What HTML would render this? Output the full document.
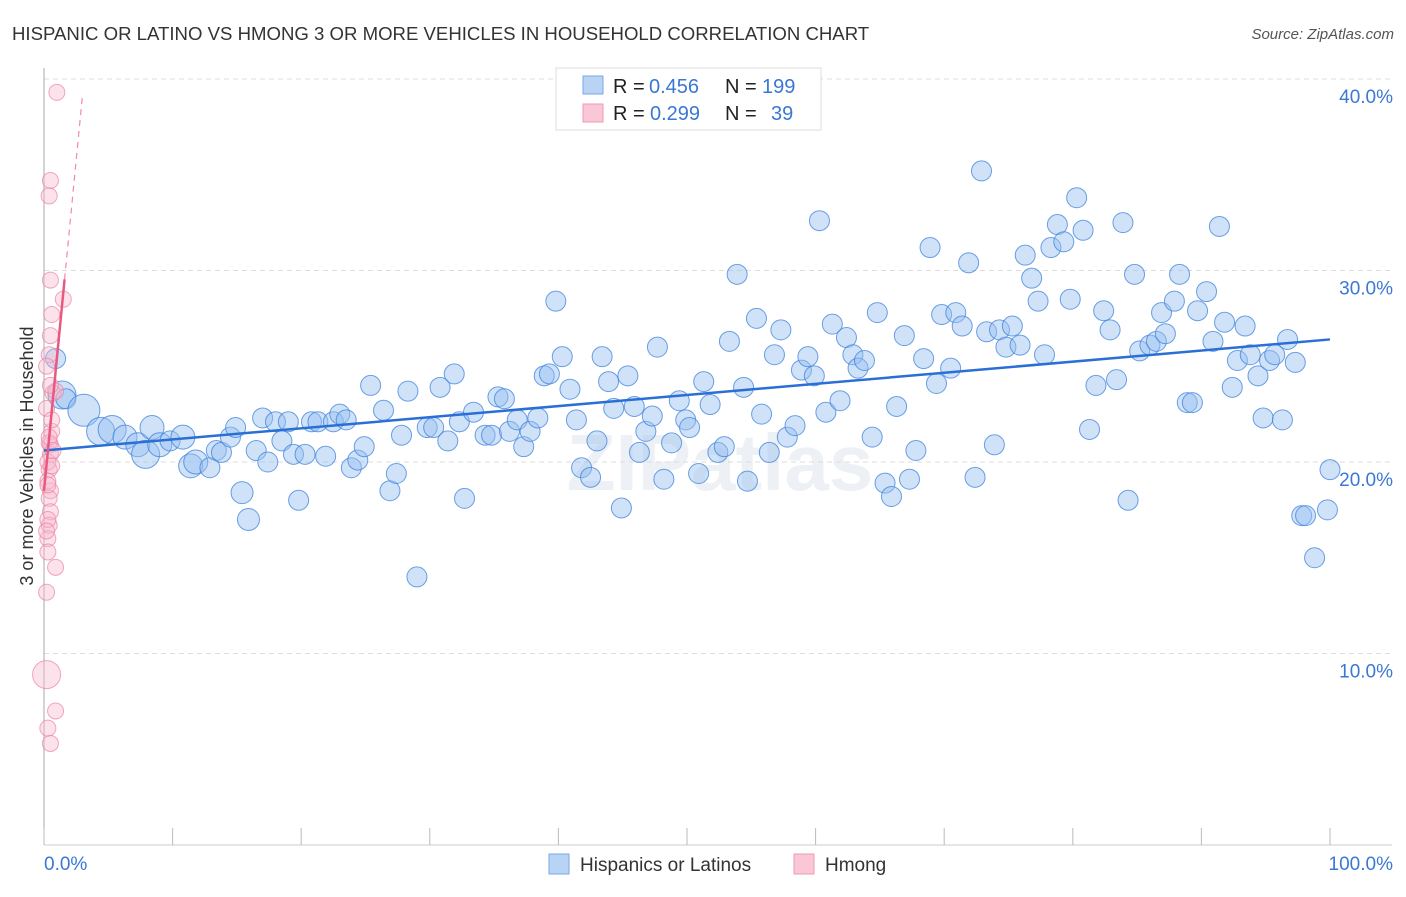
<!DOCTYPE html>
<html><head><meta charset="utf-8"><style>
body{margin:0;background:#fff;font-family:"Liberation Sans",sans-serif;}
svg text{font-family:"Liberation Sans",sans-serif;}
</style></head><body>
<svg id="chart" width="1406" height="892" xmlns="http://www.w3.org/2000/svg">
<text x="12" y="40" font-size="18.6" fill="#333">HISPANIC OR LATINO VS HMONG 3 OR MORE VEHICLES IN HOUSEHOLD CORRELATION CHART</text>
<text x="1394" y="39" font-size="15" fill="#555" text-anchor="end" font-style="italic">Source: ZipAtlas.com</text>
<text transform="translate(33,456) rotate(-90)" font-size="18" fill="#333" text-anchor="middle">3 or more Vehicles in Household</text>
<text x="720" y="490" font-size="80" fill="#edf0f5" text-anchor="middle" font-family="Liberation Serif" font-weight="bold">ZIPatlas</text>
<g id="grid"></g><g id="axes"></g><g id="blue"></g><g id="pink"></g><g id="lines"></g>
<g>
<rect x="556" y="68" width="265" height="62" fill="#fff" stroke="#ddd"/>
<rect x="583" y="76" width="20" height="18" fill="#b9d3f5" stroke="#7aa7e6"/>
<rect x="583" y="104" width="20" height="18" fill="#f9c7d5" stroke="#ef9ab3"/>
<text x="613" y="93" font-size="20" fill="#222">R =</text>
<text x="649" y="93" font-size="20" fill="#3a78d4">0.456</text>
<text x="725" y="93" font-size="20" fill="#222">N =</text>
<text x="762" y="93" font-size="20" fill="#3a78d4">199</text>
<text x="613" y="120" font-size="20" fill="#222">R =</text>
<text x="650" y="120" font-size="20" fill="#3a78d4">0.299</text>
<text x="725" y="120" font-size="20" fill="#222">N =</text>
<text x="771" y="120" font-size="20" fill="#3a78d4">39</text>
</g>
<g>
<rect x="549" y="854" width="20" height="20" fill="#b9d3f5" stroke="#7aa7e6"/>
<text x="580" y="871" font-size="19" fill="#333">Hispanics or Latinos</text>
<rect x="794" y="854" width="20" height="20" fill="#f9c7d5" stroke="#ef9ab3"/>
<text x="825" y="871" font-size="19" fill="#333">Hmong</text>
</g>
</svg>
<script>
const yTicks=[10,20,30,40];
const yTickLabels=["10.0%","20.0%","30.0%","40.0%"];
const xTicks=[0,10,20,30,40,50,60,70,80,90,100];
const blueX=[0.9,1.4,1.7,3.1,4.4,5.3,6.3,7.3,7.9,8.4,9.0,9.8,10.8,11.4,11.8,12.9,13.4,13.8,14.5,14.9,15.4,15.9,16.5,17.0,17.4,18.0,18.5,19.0,19.4,19.8,20.3,20.8,21.3,21.9,22.5,23.0,23.5,23.9,24.4,24.9,25.4,26.4,26.9,27.4,27.8,28.3,29.0,29.8,30.3,30.8,31.4,31.9,32.3,32.7,33.4,34.3,34.8,35.3,35.8,36.2,36.8,37.3,37.8,38.4,38.9,39.3,39.8,40.3,40.9,41.4,41.8,42.5,43.0,43.4,43.9,44.3,44.9,45.4,45.9,46.3,46.8,47.3,47.7,48.2,48.8,49.4,49.9,50.2,50.9,51.3,51.8,52.4,52.9,53.3,53.9,54.4,54.7,55.4,55.8,56.4,56.8,57.3,57.8,58.4,58.9,59.4,59.9,60.3,60.8,61.3,61.9,62.4,62.9,63.3,63.8,64.4,64.8,65.4,65.9,66.3,66.9,67.3,67.8,68.4,68.9,69.4,69.8,70.5,70.9,71.4,71.9,72.4,72.9,73.3,73.9,74.3,74.8,75.3,75.9,76.3,76.8,77.3,77.8,78.3,78.8,79.3,79.8,80.3,80.8,81.3,81.8,82.4,82.9,83.4,83.9,84.3,84.8,85.2,86.0,86.5,86.9,87.2,87.9,88.3,88.9,89.3,89.7,90.4,90.9,91.4,91.8,92.4,92.8,93.4,93.8,94.4,94.8,95.3,95.7,96.3,96.7,97.3,97.8,98.1,98.8,99.8,100];
const blueY=[25.4,23.5,23.3,22.7,21.6,21.7,21.3,20.9,20.4,21.8,20.9,21.1,21.3,19.8,20.0,19.7,20.6,20.5,21.3,21.8,18.4,17.0,20.6,22.3,20.0,22.1,21.1,22.1,20.4,18.0,20.4,22.1,22.1,20.3,22.1,22.5,22.2,19.7,20.1,20.8,24.0,22.7,18.5,19.4,21.4,23.7,14.0,21.8,21.8,23.9,21.1,24.6,22.1,18.1,22.6,21.4,21.4,23.4,23.3,21.6,22.2,20.8,21.6,22.3,24.5,24.6,28.4,25.5,23.8,22.2,19.7,19.2,21.1,25.5,24.2,22.8,17.6,24.5,22.9,20.5,21.6,22.4,26.0,19.1,21.0,23.2,22.2,21.8,19.4,24.2,23.0,20.5,20.8,26.3,29.8,23.9,19.0,27.5,22.5,20.5,25.6,26.9,21.3,21.9,24.8,25.5,24.5,32.6,22.6,27.2,23.2,26.5,25.6,24.9,25.3,21.3,27.8,18.9,18.2,22.9,26.6,19.1,20.6,25.4,31.2,24.1,27.7,24.9,27.8,27.1,30.4,19.2,35.2,26.8,20.9,26.9,26.0,27.1,26.1,30.8,29.6,28.4,25.6,31.2,32.4,31.5,28.5,33.8,32.1,21.7,24.0,27.9,26.9,24.3,32.5,18.0,29.8,25.8,26.1,26.3,27.8,26.7,28.4,29.8,23.1,23.1,27.9,28.9,26.3,32.3,27.3,23.9,25.3,27.1,25.6,24.5,22.3,25.3,25.6,22.2,26.4,25.2,17.2,17.2,15.0,17.5,19.6];
const blueSize=[10,14,10,16,14,14,12,12,14,12,12,10,12,12,12,10,10,10,10,10,11,11];
const pinkX=[1.0,0.5,0.4,0.5,1.5,0.6,0.5,0.4,0.7,0.6,0.5,0.5,0.4,0.5,0.4,0.5,0.4,0.3,0.3,0.9,0.2,0.2,0.9,0.3,0.5,0.2,0.3,0.3,0.6,0.9,0.4,0.3,0.6,0.2,0.5,0.3,0.4,0.7,0.2];
const pinkY=[39.3,34.7,33.9,29.5,28.5,27.7,26.6,25.6,23.6,21.6,20.9,20.4,19.6,18.5,18.1,17.4,16.7,16.0,15.3,14.5,13.2,8.9,7.0,6.1,5.3,22.8,20.0,19.0,22.2,23.7,21.0,17.0,19.8,25.0,24.0,18.8,21.3,20.6,16.4];
const blueTrend=[20.6,26.4];
const pinkTrend=[18.5,6.9];
const X0=44,X1=1330,Y0=845,Y40=79;
const xs=v=>X0+(X1-X0)*v/100;
const ys=v=>Y0-(Y0-Y40)*v/40;
const NS="http://www.w3.org/2000/svg";
function mk(tag,attrs,parent){const e=document.createElementNS(NS,tag);for(const k in attrs)e.setAttribute(k,attrs[k]);document.getElementById(parent).appendChild(e);return e;}
yTicks.forEach((t,i)=>{
 const l=mk('line',{x1:X0,x2:1392,y1:ys(t),y2:ys(t),stroke:'#ddd','stroke-dasharray':'5,4'},'grid');
 
 
 const tx=mk('text',{x:1393,y:ys(t)+24,'font-size':19,fill:'#3a78d4','text-anchor':'end'},'grid');
 tx.textContent=yTickLabels[i];
 
 
});
const ax=mk('line',{x1:X0,x2:X0,y1:68,y2:Y0,stroke:'#aaa'},'axes');


const bx=mk('line',{x1:X0,x2:1392,y1:Y0,y2:Y0,stroke:'#ccc'},'axes');


xTicks.forEach(t=>{
 const l=mk('line',{x1:xs(t),x2:xs(t),y1:828,y2:Y0,stroke:'#bbb'},'axes');
 
 
});
const xl0=mk('text',{x:44,y:870,'font-size':19,fill:'#3a78d4'},'axes');xl0.textContent='0.0%';


const xl1=mk('text',{x:1393,y:870,'font-size':19,fill:'#3a78d4','text-anchor':'end'},'axes');xl1.textContent='100.0%';


blueX.forEach((v,i)=>{
 const c=mk('circle',{cx:xs(v),cy:ys(blueY[i]),r:blueSize[i]||10,fill:'rgba(150,190,240,0.45)',stroke:'rgba(60,130,220,0.75)','stroke-width':1},'blue');
 
 
});
pinkX.forEach((v,i)=>{
 const c=mk('circle',{cx:xs(v),cy:ys(pinkY[i]),r:i===21?14:8,fill:'rgba(248,185,205,0.4)',stroke:'rgba(235,130,165,0.7)','stroke-width':1},'pink');
 
 
});
const bl=mk('line',{x1:xs(0),y1:ys(blueTrend[0]),x2:xs(100),y2:ys(blueTrend[1]),stroke:'#2a6fd6','stroke-width':2.5},'lines');


const pEnd=1.6, pDash=3.0;
const pl=mk('line',{x1:xs(0),y1:ys(pinkTrend[0]),x2:xs(pEnd),y2:ys(pinkTrend[0]+pinkTrend[1]*pEnd),stroke:'#e8587f','stroke-width':2.5},'lines');


const pd=mk('line',{x1:xs(pEnd),y1:ys(pinkTrend[0]+pinkTrend[1]*pEnd),x2:xs(pDash),y2:ys(pinkTrend[0]+pinkTrend[1]*pDash),stroke:'#ef8aa8','stroke-width':1.2,'stroke-dasharray':'6,5'},'lines');


</script>
</body></html>
